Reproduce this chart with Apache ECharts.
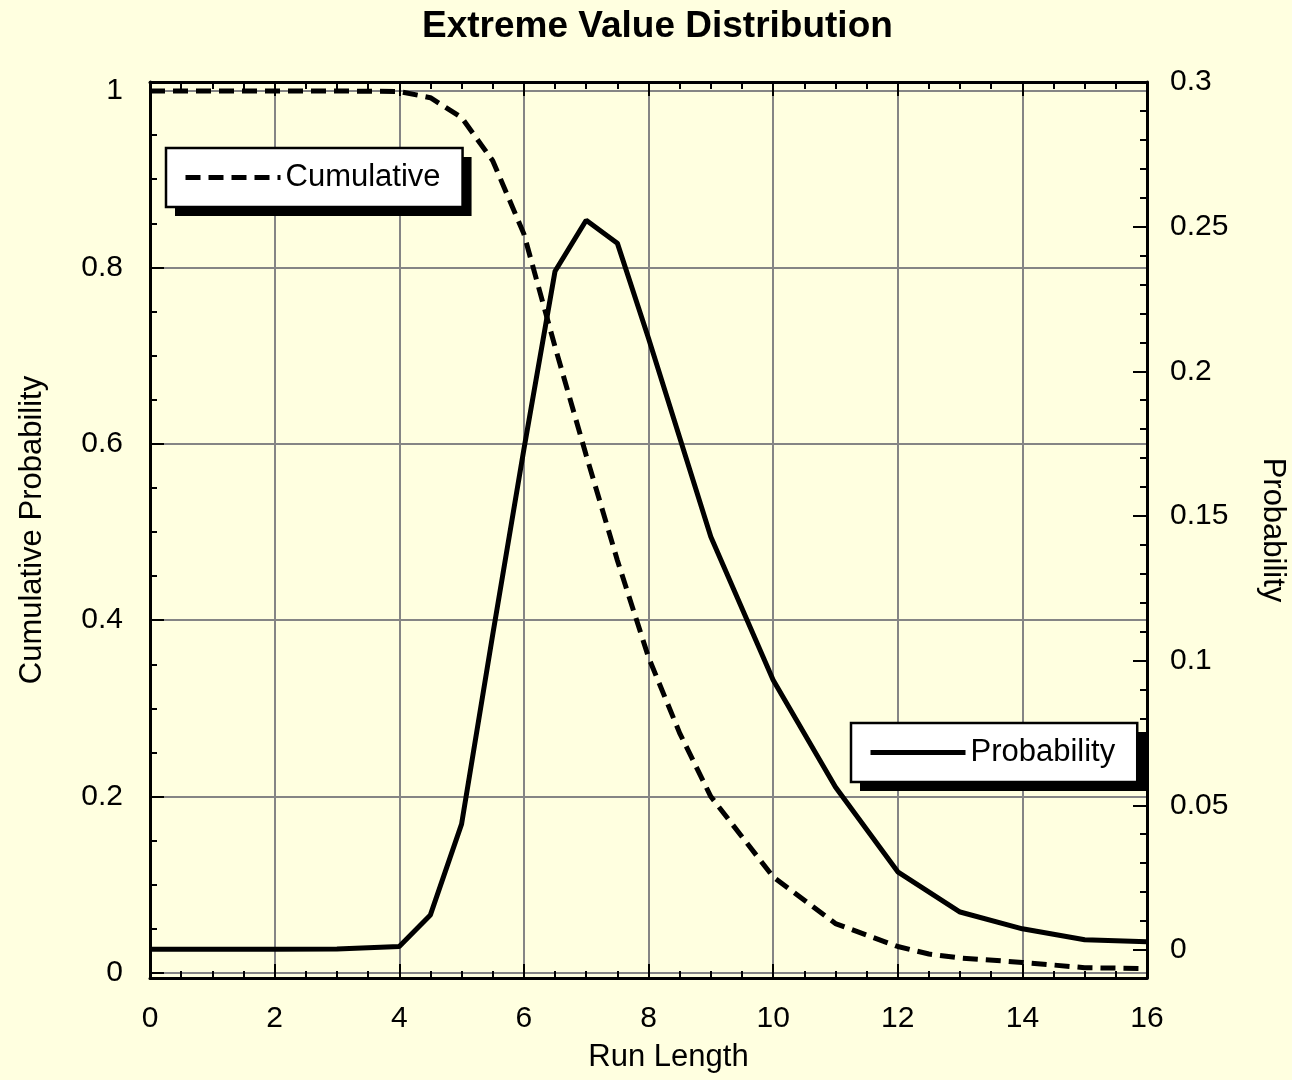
<!DOCTYPE html>
<html>
<head>
<meta charset="utf-8">
<title>Extreme Value Distribution</title>
<script src="https://cdn.jsdelivr.net/npm/echarts@6/dist/echarts.min.js"></script>
<style>
  html, body { margin: 0; padding: 0; background: #FFFFE0; }
  #chart { width: 1292px; height: 1080px; }
</style>
</head>
<body>
<div id="chart"></div>
<script>
// Values
const cumRunLength = [0, 1, 2, 3, 4, 4.5, 5, 5.5, 6, 6.5, 7, 7.5, 8, 8.5, 9, 10, 11, 12, 12.5, 13, 14, 15, 16];
const cumulative = [1, 1, 1, 1, 0.9995, 0.9924, 0.970, 0.921, 0.838, 0.710, 0.587, 0.468, 0.358, 0.272, 0.200, 0.109, 0.056, 0.030, 0.0215, 0.017, 0.012, 0.006, 0.005];

const probRunLength = [0, 1, 2, 3, 4, 4.5, 5, 5.5, 6, 6.5, 7, 7.5, 8, 9, 10, 11, 12, 13, 14, 15, 16];
const probability = [0.0002, 0.0002, 0.0002, 0.0003, 0.0012, 0.0121, 0.0435, 0.109, 0.173, 0.2346, 0.2522, 0.2443, 0.2114, 0.1428, 0.0933, 0.0563, 0.0270, 0.0131, 0.0073, 0.0035, 0.0028];

// Tick labels
const leftTicks = [0, 0.2, 0.4, 0.6, 0.8, 1];
const rightTicks = [0, 0.05, 0.1, 0.15, 0.2, 0.25, 0.3];

// minor tick positions (axis decoration only)
function steps(max, step) {
  const out = [];
  for (let i = 0; i * step <= max + 1e-9; i++) out.push(Math.round(i * step * 1000) / 1000);
  return out;
}
const leftMinor = steps(1, 0.05);
const rightMinor = steps(0.3, 0.01);

const FONT = '"Liberation Sans", Arial, Helvetica, sans-serif';
const DASH = [15, 8];
const LINE_W = 5;
const frameLine = { show: true, onZero: false, lineStyle: { color: '#000', width: 3 } };

// legend box: front (white, bordered) or back (black drop shadow)
function legendBox(name, left, top, back, dashed) {
  return {
    data: [name],
    left: left + (back ? 9 : 0),
    top: top + (back ? 9 : 0),
    z: back ? 4 : 5,
    orient: 'horizontal',
    padding: [14, 22, 14, 17],
    itemWidth: 95,
    itemHeight: 14,
    selectedMode: false,
    backgroundColor: back ? '#000' : '#fff',
    borderColor: '#000',
    borderWidth: back ? 0 : 2.5,
    itemStyle: { color: 'transparent', borderColor: 'transparent', borderWidth: 0 },
    lineStyle: { color: '#000', width: LINE_W, type: dashed ? DASH : 'solid' },
    textStyle: { fontSize: 31, color: '#000', fontFamily: FONT },
  };
}

const chart = echarts.init(document.getElementById('chart'), null, { renderer: 'canvas' });

chart.setOption({
  backgroundColor: '#FFFFE0',
  animation: false,
  textStyle: { fontFamily: FONT, color: '#000' },
  title: {
    text: 'Extreme Value Distribution',
    left: 417,
    top: 3,
    textStyle: { fontSize: 37, fontWeight: 'bold', color: '#000', fontFamily: FONT },
  },
  legend: [
    legendBox('Cumulative', 166, 148, true, true),
    legendBox('Cumulative', 166, 148, false, true),
    legendBox('Probability', 851, 723, true, false),
    legendBox('Probability', 851, 723, false, false),
  ],
  grid: {
    left: 150,
    right: 145,
    top: 82,
    bottom: 102,
    containLabel: false,
    outerBoundsMode: 'none',
  },
  xAxis: [
    {
      type: 'value',
      position: 'bottom',
      min: 0,
      max: 16,
      interval: 2,
      name: 'Run Length',
      nameLocation: 'middle',
      nameGap: 64,
      nameTextStyle: { fontSize: 31, color: '#000', fontFamily: FONT, padding: [0, 0, 0, 40] },
      axisLine: frameLine,
      axisTick: { inside: true, length: 14, lineStyle: { color: '#000', width: 2 } },
      minorTick: { show: true, splitNumber: 4, length: 7, lineStyle: { color: '#000', width: 2 } },
      splitLine: { show: true, lineStyle: { color: '#858585', width: 2 } },
      axisLabel: { fontSize: 30, color: '#000', margin: 26, fontFamily: FONT },
    },
    {
      type: 'value',
      position: 'top',
      min: 0,
      max: 16,
      interval: 2,
      axisLine: frameLine,
      axisTick: { inside: true, length: 14, lineStyle: { color: '#000', width: 2 } },
      minorTick: { show: true, splitNumber: 4, length: 7, lineStyle: { color: '#000', width: 2 } },
      splitLine: { show: false },
      axisLabel: { show: false },
    },
  ],
  yAxis: [
    {
      type: 'value',
      position: 'left',
      min: -0.0057,
      max: 1.0102,
      name: 'Cumulative Probability',
      nameLocation: 'middle',
      nameGap: 102,
      nameTextStyle: { fontSize: 31, color: '#000', fontFamily: FONT },
      axisLine: frameLine,
      axisTick: { inside: true, length: 14, customValues: leftTicks, lineStyle: { color: '#000', width: 2 } },
      axisLabel: { fontSize: 30, color: '#000', margin: 27, customValues: leftTicks, fontFamily: FONT },
      splitLine: { show: true, lineStyle: { color: '#858585', width: 2 } },
    },
    {
      type: 'value',
      position: 'right',
      min: -0.0097,
      max: 0.3,
      name: 'Probability',
      nameLocation: 'middle',
      nameRotate: -90,
      nameGap: 110,
      nameTextStyle: { fontSize: 31, color: '#000', fontFamily: FONT },
      axisLine: frameLine,
      axisTick: { inside: true, length: 14, customValues: rightTicks, lineStyle: { color: '#000', width: 2 } },
      axisLabel: { fontSize: 30, color: '#000', margin: 23, customValues: rightTicks, fontFamily: FONT },
      splitLine: { show: false },
    },
    {
      // minor ticks, left
      type: 'value',
      position: 'left',
      min: -0.0057,
      max: 1.0102,
      axisLine: { show: false, onZero: false },
      axisTick: { inside: true, length: 7, customValues: leftMinor, lineStyle: { color: '#000', width: 2 } },
      axisLabel: { show: false },
      splitLine: { show: false },
    },
    {
      // minor ticks, right
      type: 'value',
      position: 'right',
      min: -0.0097,
      max: 0.3,
      axisLine: { show: false, onZero: false },
      axisTick: { inside: true, length: 7, customValues: rightMinor, lineStyle: { color: '#000', width: 2 } },
      axisLabel: { show: false },
      splitLine: { show: false },
    },
  ],
  series: [
    {
      name: 'Cumulative',
      type: 'line',
      xAxisIndex: 0,
      yAxisIndex: 0,
      data: cumRunLength.map((x, i) => [x, cumulative[i]]),
      symbol: 'none',
      lineStyle: { color: '#000', width: LINE_W, type: DASH },
      itemStyle: { color: '#000' },
    },
    {
      name: 'Probability',
      type: 'line',
      xAxisIndex: 0,
      yAxisIndex: 1,
      data: probRunLength.map((x, i) => [x, probability[i]]),
      symbol: 'none',
      lineStyle: { color: '#000', width: LINE_W, type: 'solid' },
      itemStyle: { color: '#000' },
    },
  ],
});
</script>
</body>
</html>
